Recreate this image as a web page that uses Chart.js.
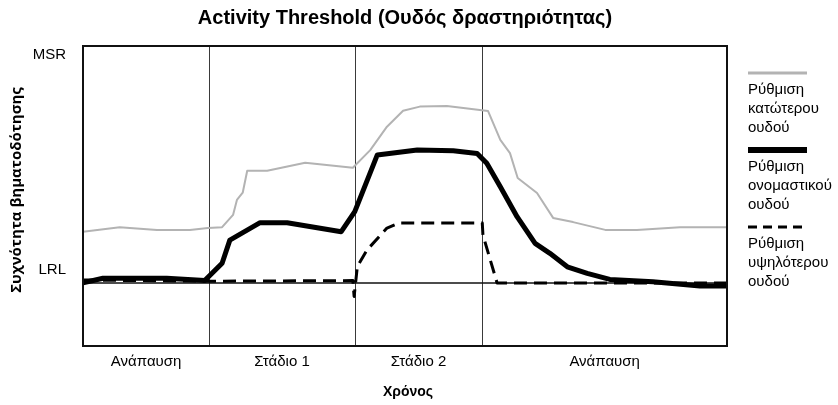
<!DOCTYPE html>
<html>
<head>
<meta charset="utf-8">
<script src="https://cdn.jsdelivr.net/npm/chart.js@4"></script>
<style>
  body { margin: 0; background: #fff; }
</style>
</head>
<body>
<canvas id="threshold" width="838" height="405"></canvas>
<script>
// time runs 0..100 across the plot, rate runs 0..100 (LRL sits at 21, MSR at the top)
const lowerTime = [0, 5.7, 11.5, 16.6, 19.4, 21.6, 23.3, 23.9, 24.8, 25.5, 28.6, 34.5, 41.9, 44.6, 47.2, 49.7, 52.3, 56.5, 62.9, 64.8, 66.3, 67.5, 70.5, 73.0, 76.1, 81.1, 86.0, 92.7, 100];
const lowerRate = [38.1, 39.6, 38.7, 38.7, 39.3, 39.6, 43.7, 48.7, 51.1, 58.4, 58.4, 61.1, 59.4, 65.3, 73.1, 78.4, 79.8, 80.0, 78.3, 68.7, 64.3, 56.0, 51.0, 42.7, 41.3, 38.7, 38.7, 39.6, 39.6];

const nominalTime = [0, 3.1, 13.0, 18.9, 21.6, 22.8, 27.5, 31.7, 40.1, 42.2, 45.7, 51.9, 57.5, 61.2, 62.7, 64.8, 67.4, 70.2, 72.5, 75.2, 78.3, 81.8, 88.5, 95.8, 100];
const nominalRate = [21.1, 22.6, 22.6, 21.8, 27.6, 35.3, 41.1, 41.1, 38.1, 44.8, 63.7, 65.3, 65.1, 64.2, 60.9, 53.1, 43.1, 34.2, 30.9, 26.4, 24.2, 22.2, 21.4, 20.0, 20.0];

const upperTime = [0, 19.5, 41.9, 42.1, 42.6, 44.1, 47.2, 49.1, 62.0, 62.1, 64.3, 100];
const upperRate = [22.0, 21.6, 21.8, 16.5, 26.5, 32.0, 39.3, 41.0, 41.0, 37.0, 21.0, 21.0];

const phaseNames = ['Ανάπαυση', 'Στάδιο 1', 'Στάδιο 2', 'Ανάπαυση'];
const phaseEdges = [0, 19.6, 42.2, 62.0, 100];

const rateLabels = ['LRL', 'MSR'];
const rateLevels = [21, 100];

const FONT = '"Liberation Sans", Arial, sans-serif';

function toPoints(xs, ys) {
  return xs.map((x, i) => ({ x: x, y: ys[i] }));
}

const decorations = {
  id: 'decorations',
  beforeDatasetsDraw(chart) {
    const { ctx, chartArea: a, scales: { x, y } } = chart;
    ctx.save();
    // phase dividers
    ctx.strokeStyle = '#3a3a3a';
    ctx.lineWidth = 1;
    phaseEdges.slice(1, -1).forEach(t => {
      const px = Math.round(x.getPixelForValue(t)) + 0.5;
      ctx.beginPath();
      ctx.moveTo(px, a.top);
      ctx.lineTo(px, a.bottom);
      ctx.stroke();
    });
    // lower rate limit
    const ly = y.getPixelForValue(rateLevels[0]);
    ctx.strokeStyle = '#111';
    ctx.lineWidth = 1.6;
    ctx.beginPath();
    ctx.moveTo(a.left, ly);
    ctx.lineTo(a.right, ly);
    ctx.stroke();
    ctx.restore();
  },
  afterDatasetsDraw(chart) {
    const { ctx, chartArea: a } = chart;
    ctx.save();
    ctx.strokeStyle = '#111';
    ctx.lineWidth = 2;
    ctx.strokeRect(a.left, a.top, a.right - a.left, a.bottom - a.top);
    ctx.restore();
  },
  afterDraw(chart) {
    const { ctx, chartArea: a, scales: { x, y } } = chart;
    ctx.save();
    ctx.fillStyle = '#000';

    // rate labels
    ctx.font = '15px ' + FONT;
    ctx.textAlign = 'right';
    rateLabels.forEach((lab, i) => {
      const py = y.getPixelForValue(rateLevels[i]);
      if (rateLevels[i] >= y.max) {
        ctx.textBaseline = 'top';
        ctx.fillText(lab, a.left - 17, py + 1);
      } else {
        ctx.textBaseline = 'bottom';
        ctx.fillText(lab, a.left - 17, py - 6);
      }
    });

    // phase names under the plot
    ctx.font = '15px ' + FONT;
    ctx.textAlign = 'center';
    ctx.textBaseline = 'middle';
    phaseNames.forEach((name, i) => {
      const cx = (x.getPixelForValue(phaseEdges[i]) + x.getPixelForValue(phaseEdges[i + 1])) / 2;
      ctx.fillText(name, cx, a.bottom + 16);
    });

    // axis titles
    ctx.font = 'bold 14px ' + FONT;
    ctx.fillText('Χρόνος', (a.left + a.right) / 2 + 3, a.bottom + 46);

    ctx.save();
    ctx.translate(17, (a.top + a.bottom) / 2 - 6);
    ctx.rotate(-Math.PI / 2);
    ctx.font = 'bold 15px "Open Sans", ' + FONT;
    ctx.fillText('Συχνότητα βηματοδότησης', 0, 0);
    ctx.restore();

    // legend on the right, one block per dataset
    const lx = a.right + 21;
    ctx.textAlign = 'left';
    ctx.font = '15px ' + FONT;
    chart.data.datasets.forEach((ds, i) => {
      const top = 73 + i * 77;
      ctx.save();
      ctx.strokeStyle = ds.borderColor;
      ctx.lineWidth = ds.legendWidth;
      ctx.setLineDash(ds.borderDash ? [9, 6] : []);
      ctx.beginPath();
      ctx.moveTo(lx, top);
      ctx.lineTo(lx + 59, top);
      ctx.stroke();
      ctx.restore();
      ds.label.split(' ').forEach((word, j) => {
        ctx.fillText(word, lx, top + 17 + j * 19);
      });
    });
    ctx.restore();
  }
};

new Chart(document.getElementById('threshold'), {
  type: 'line',
  data: {
    datasets: [
      {
        label: 'Ρύθμιση κατώτερου ουδού',
        data: toPoints(lowerTime, lowerRate),
        borderColor: '#b3b3b3',
        borderWidth: 2,
        legendWidth: 3,
        order: 2
      },
      {
        label: 'Ρύθμιση ονομαστικού ουδού',
        data: toPoints(nominalTime, nominalRate),
        borderColor: '#000',
        borderWidth: 5,
        legendWidth: 6,
        order: 0
      },
      {
        label: 'Ρύθμιση υψηλότερου ουδού',
        data: toPoints(upperTime, upperRate),
        borderColor: '#000',
        borderWidth: 3,
        borderDash: [13, 7],
        legendWidth: 3,
        order: 1
      }
    ]
  },
  options: {
    responsive: false,
    animation: false,
    devicePixelRatio: 1,
    layout: { padding: { left: 83, right: 111, top: 0, bottom: 59 } },
    elements: {
      point: { radius: 0 },
      line: { tension: 0, borderJoinStyle: 'round' }
    },
    scales: {
      x: { type: 'linear', min: 0, max: 100, display: false },
      y: { min: 0, max: 100, display: false }
    },
    plugins: {
      legend: { display: false },
      tooltip: { enabled: false },
      title: {
        display: true,
        fullSize: false,
        text: 'Activity Threshold (Ουδός δραστηριότητας)',
        color: '#000',
        font: { family: FONT, size: 20, weight: 'bold' },
        padding: { top: 6, bottom: 16 }
      }
    }
  },
  plugins: [decorations]
});
</script>
</body>
</html>
